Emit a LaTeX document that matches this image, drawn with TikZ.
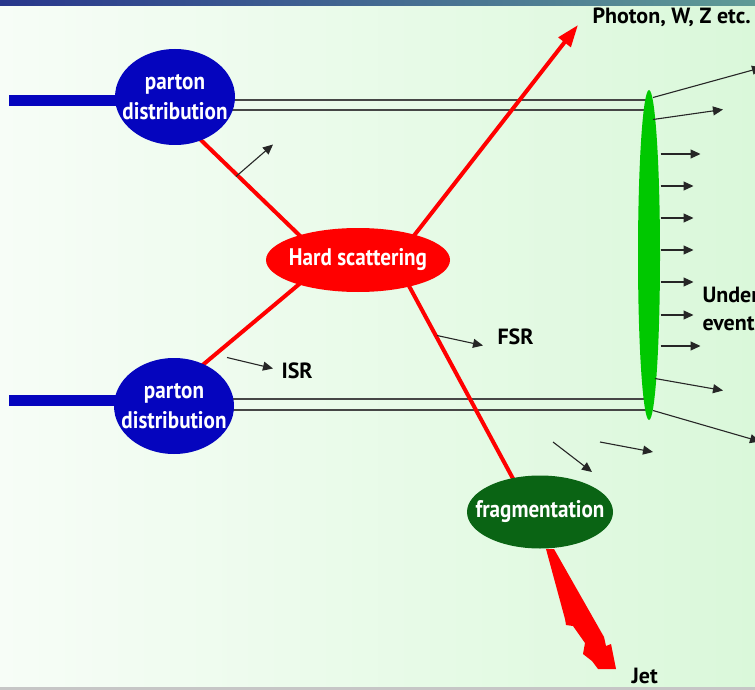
\documentclass[tikz,border=0pt]{standalone}
\usepackage{fontspec}
\setmainfont{PT Sans}
\newfontfamily\narrowfont{PT Sans}[FakeStretch=0.88]
\usepackage{tikz}
\usetikzlibrary{shapes,arrows.meta,positioning,calc,backgrounds}

\definecolor{barleft}{RGB}{40,55,140}
\definecolor{barright}{RGB}{95,155,150}
\definecolor{partonblue}{RGB}{5,5,190}
\definecolor{uegreen}{RGB}{0,200,0}
\definecolor{fraggreen}{RGB}{10,100,20}
\definecolor{bgleft}{RGB}{247,253,247}
\definecolor{bgright}{RGB}{218,248,218}

\begin{document}
\begin{tikzpicture}[x=1pt, y=-1pt, line width=1pt,
	blob/.style={ellipse, inner xsep=-40pt, inner ysep=0pt, text=white, align=center, font=\narrowfont\bfseries\fontsize{24}{30}\selectfont},
	parton/.style={blob, fill=partonblue, minimum width=120pt, minimum height=96pt},
	lbl/.style={inner sep=0pt, anchor=west, align=left, font=\bfseries\fontsize{22}{28}\selectfont},
	quark/.style={red, line width=4pt},
	beam/.style={partonblue, line width=11pt},
	remnant/.style={gray!55!black, line width=1.6pt},
	emit/.style={black!85, line width=1.1pt, -{Triangle[length=10pt,width=9pt]}}]
	\useasboundingbox (0,0) rectangle (755,690);
	
	\node [parton] (ptop) at (175,97) {parton\\distribution};
	\node [parton] (pbot) at (174,406) {parton\\distribution};
	\node [blob, fill=red, minimum width=184pt, minimum height=64pt] (hard) at (358,260) {Hard scattering};
	\node [blob, fill=fraggreen, minimum width=146pt, minimum height=73pt] (frag) at (540,512) {fragmentation};
	\node [ellipse, fill=uegreen, inner sep=0pt, minimum width=22pt, minimum height=330pt] (ue) at (649,255) {};
	
	\coordinate (intop) at (9,101);
	\coordinate (inbot) at (9,400);
	\coordinate (gam) at (578,25);
	
	\begin{scope}[on background layer]
		\shade [left color=bgleft, right color=bgright] (0,0) rectangle (755,690);
		\shade [left color=barleft, right color=barright] (0,0) rectangle (755,6);
		\fill [gray!45] (0,687) rectangle (755,690);
		% beam remnants
		\draw [remnant] (ptop.center |- 0,100) -- (ue.center |- 0,100);
		\draw [remnant] (ptop.center |- 0,110) -- (ue.center |- 0,110);
		\draw [remnant] (pbot.center |- 0,399) -- (ue.center |- 0,399);
		\draw [remnant] (pbot.center |- 0,410) -- (ue.center |- 0,410);
		\draw [beam] (intop) -- (intop -| ptop.center);
		\draw [beam] (inbot) -- (inbot -| pbot.center);
		% partons
		\draw [quark] ($(ptop)+(0,18)$) -- ($(hard)+(-33,0)$);
		\draw [quark] ($(pbot)+(0,-17)$) -- ($(hard)+(-30,0)$);
		\draw [quark, -{Triangle[length=22pt,width=15pt]}] ($(hard)+(37,0)$) -- (gam);
		\draw [quark] ($(hard)+(37,0)$) -- ($(frag)+(-9,0)$);
	\end{scope}
	
	% jet
	\fill [red, shift={(frag.south)}] (6,0) -- (25,70) -- (26,76) -- (33,77) -- (45,94) -- (43,105)
		-- (52,112) -- (58,120) -- (76,120) -- (71,95) -- (66,97) -- (64,88) -- (14,0) -- cycle;
	
	\node [lbl] (photon) at (592,17) {Photon, W, Z etc.};
	\node [lbl] (under) at (702,309) {Under\\event};
	\node [lbl] (jet) at (631,676) {Jet};
	
	\draw [emit] ([shift={(61,31)}]ptop.south) -- ++(37,-32);
	\draw [emit] ([shift={(53,0)}]pbot.north) -- ++(46,11) coordinate (isrtip);
	\node [lbl, right=8pt of isrtip, yshift=-2pt] (isr) {ISR};
	\draw [emit] ([shift={(79,43)}]hard.south) -- ++(46,10);
	\node [lbl] (fsr) at (497,337) {FSR};
	\draw [emit] ([shift={(13,-33)}]frag.north) -- ++(39,30);
	\draw [emit] ([shift={(60,-33)}]frag.north) -- ++(53,10);
	
	\draw [emit] ([shift={(4,8)}]ue.north) -- ++(109,-30);
	\draw [emit] ([shift={(4,30)}]ue.north) -- ++(70,-10);
	\draw [emit] (ue.east |- 0,154) -- ++(40,0);
	\draw [emit] (ue.east |- 0,186) -- ++(33,0);
	\draw [emit] (ue.east |- 0,218) -- ++(33,0);
	\draw [emit] (ue.east |- 0,250) -- ++(33,0);
	\draw [emit] (ue.east |- 0,282) -- ++(33,0);
	\draw [emit] (ue.east |- 0,315) -- ++(33,0);
	\draw [emit] (ue.east |- 0,346) -- ++(40,0);
	\draw [emit] ([shift={(6,-42)}]ue.south) -- ++(68,12);
	\draw [emit] ([shift={(4,-10)}]ue.south) -- ++(107,31);
\end{tikzpicture}
\end{document}
